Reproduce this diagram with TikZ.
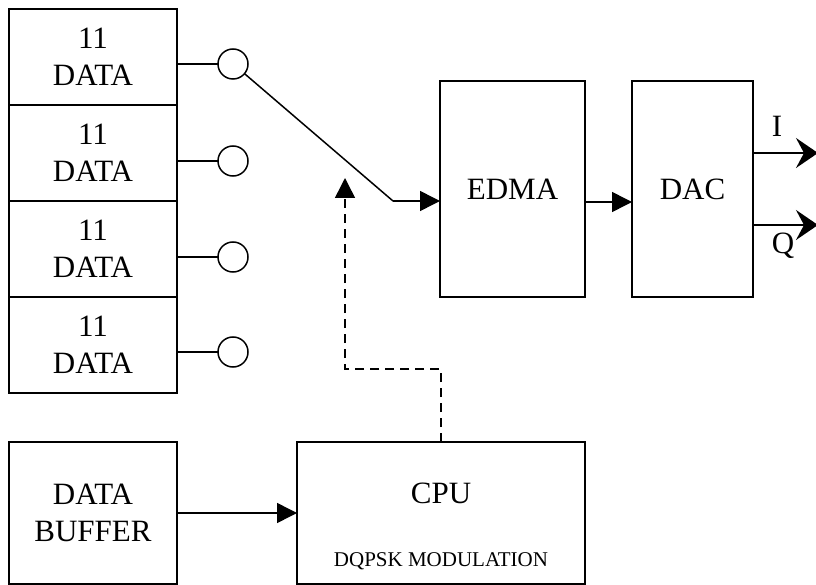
\documentclass[tikz,border=0pt]{standalone}
\usepackage{fontspec}
\setmainfont{Liberation Serif}
\usetikzlibrary{positioning}
\usetikzlibrary{arrows.meta}

\begin{document}
\begin{tikzpicture}[x=1pt,y=-1pt,line width=1.5pt,
    every node/.style={outer sep=0pt,align=center,font=\fontsize{31}{37}\selectfont},
    block/.style={draw,shape=rectangle,inner sep=0pt},
    slot/.style={block,minimum width=168pt,minimum height=96pt},
    port/.style={draw,shape=circle,minimum size=30pt,inner sep=0pt},
    flow/.style={-{Triangle[length=20pt,width=20pt]}},
    ctrl/.style={flow,dash pattern=on 9pt off 6pt},
    iqline/.style={-{Stealth[length=22pt,width=30pt,inset=8pt]}}]
  \useasboundingbox (0,0) rectangle (816,585);

  \node[slot] (d1) at (93,57) {11\\DATA};
  \node[slot,below=0pt of d1] (d2) {11\\DATA};
  \node[slot,below=0pt of d2] (d3) {11\\DATA};
  \node[slot,below=0pt of d3] (d4) {11\\DATA};

  \node[port] (p1) at (233,64) {};
  \node[port] (p2) at (233,161) {};
  \node[port] (p3) at (233,257) {};
  \node[port] (p4) at (233,352) {};

  \draw (d1.east |- p1) -- (p1);
  \draw (d2.east |- p2) -- (p2);
  \draw (d3.east |- p3) -- (p3);
  \draw (d4.east |- p4) -- (p4);

  \node[block,minimum width=145pt,minimum height=216pt] (edma) at (512.5,189) {EDMA};
  \node[block,minimum width=121pt,minimum height=216pt] (dac) at (692.5,189) {DAC};

  % switch arm
  \coordinate (pivot) at (393,201);
  \draw (p1.-40) -- (pivot);
  \draw[flow] (pivot) -- (pivot -| edma.west);
  \draw[flow] ([yshift=-13pt]edma.east) -- ([yshift=-13pt]dac.west);

  \coordinate (iend) at (818,153);
  \coordinate (qend) at (818,225);
  \draw[iqline] (iend -| dac.east) -- (iend);
  \draw[iqline] (qend -| dac.east) -- (qend);
  \node (ilab) at (777,126) {I};
  \node (qlab) at (783,246) {Q};

  \node[block,minimum width=168pt,minimum height=142pt] (buf) at (93,513) {DATA\\BUFFER};
  \node[block,minimum width=288pt,minimum height=142pt] (cpu) at (441,513) {};
  \node (cputxt) at (441,493) {CPU};
  \node[font=\fontsize{21}{25}\selectfont] (modtxt) at (441,561) {DQPSK MODULATION};
  \draw[flow] (buf) -- (cpu);

  % control line from the cpu
  \coordinate (bend) at (345,369);
  \coordinate (tip) at (345,178);
  \draw[ctrl] (cpu.north) |- (bend) -- (tip);
\end{tikzpicture}
\end{document}
